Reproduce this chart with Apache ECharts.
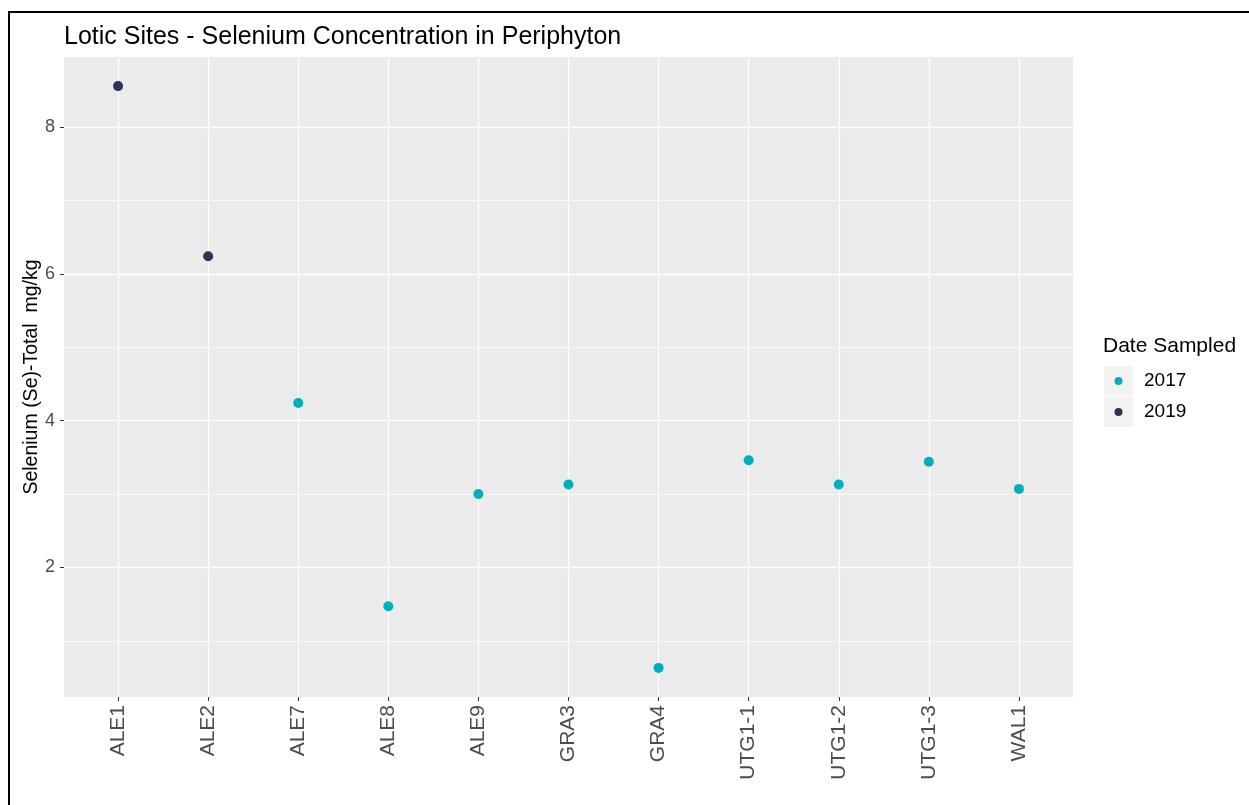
<!DOCTYPE html>
<html>
<head>
<meta charset="utf-8">
<script src="https://cdn.jsdelivr.net/npm/echarts@6/dist/echarts.min.js"></script>
<style>
html,body{margin:0;padding:0;background:#fff;}
#chart{width:1249px;height:805px;}
#frame{position:absolute;left:8px;top:11px;right:0;bottom:0;border-left:2px solid #000;border-top:2px solid #000;pointer-events:none;}
</style>
</head>
<body>
<div id="chart"></div>
<div id="frame"></div>
<script>
// ---- data ----
const sites = ['ALE1','ALE2','ALE7','ALE8','ALE9','GRA3','GRA4','UTG1-1','UTG1-2','UTG1-3','WAL1'];
const yearSampled = ['2019','2019','2017','2017','2017','2017','2017','2017','2017','2017','2017'];
const selenium = [8.56, 6.24, 4.24, 1.47, 3.00, 3.13, 0.63, 3.46, 3.13, 3.44, 3.07];
const years = ['2017','2019'];
const yearColors = ['#00AFBB', '#2B3454'];
const yMajorTicks = [2, 4, 6, 8];
const yMinorTicks = [1, 3, 5, 7];

// ---- build ----
const xIdx = sites.map((_, i) => i);
const yMinD = Math.min(...selenium), yMaxD = Math.max(...selenium);
const pad = (yMaxD - yMinD) * 0.05;
const yMin = yMinD - pad, yMax = yMaxD + pad;

function keyIcon(color) {
  const svg = "<svg xmlns='http://www.w3.org/2000/svg' width='29' height='30'>" +
    "<rect width='29' height='30' fill='#F2F2F2'/>" +
    "<circle cx='14.5' cy='15' r='4' fill='" + color + "'/></svg>";
  return 'image://data:image/svg+xml;charset=utf-8,' + encodeURIComponent(svg);
}

const series = years.map((yr, k) => ({
  name: yr,
  type: 'scatter',
  symbolSize: 10,
  itemStyle: { color: yearColors[k], opacity: 1 },
  data: sites.map((s, i) => yearSampled[i] === yr ? [i, selenium[i]] : null).filter(d => d),
  z: 5
}));

const font = 'Liberation Sans, Arial, sans-serif';
const chart = echarts.init(document.getElementById('chart'), null, { renderer: 'canvas' });
chart.setOption({
  animation: false,
  backgroundColor: '#ffffff',
  color: yearColors,
  title: [
    { text: 'Lotic Sites - Selenium Concentration in Periphyton', left: 59, top: 20,
      textStyle: { fontFamily: font, fontSize: 25, fontWeight: 'normal', color: '#000' } },
    { text: 'Date Sampled', left: 1098, top: 331,
      textStyle: { fontFamily: font, fontSize: 21, fontWeight: 'normal', color: '#000' } }
  ],
  legend: {
    orient: 'vertical', left: 1104, top: 366, padding: 0,
    itemWidth: 29, itemHeight: 30, itemGap: 1,
    data: years.map((y, k) => ({ name: y, icon: keyIcon(yearColors[k]) })),
    textStyle: { fontFamily: font, fontSize: 19, color: '#000', padding: [0, 0, 0, 6] }
  },
  grid: { left: 64, top: 57, width: 1009, height: 640, show: true, backgroundColor: '#EBEBEB', borderWidth: 0 },
  xAxis: {
    type: 'value', min: -0.6, max: 10.6,
    axisLine: { show: false, onZero: false },
    axisTick: { show: true, length: 4, lineStyle: { color: '#333333', width: 1 }, customValues: xIdx },
    axisLabel: { customValues: xIdx, rotate: 90, margin: 8, color: '#4D4D4D', fontFamily: font, fontSize: 21,
      formatter: v => sites[Math.round(v)] },
    splitLine: { show: true, lineStyle: { color: '#FFFFFF', width: 1.2 } }
  },
  yAxis: [
    {
      type: 'value', min: yMin, max: yMax,
      name: 'Selenium (Se)-Total  mg/kg', nameLocation: 'middle', nameGap: 22, nameMoveOverlap: false,
      nameTextStyle: { fontFamily: font, fontSize: 19.5, color: '#000' },
      axisLine: { show: false, onZero: false },
      axisTick: { show: true, length: 4, lineStyle: { color: '#333333', width: 1 }, customValues: yMajorTicks },
      axisLabel: { customValues: yMajorTicks, margin: 9, color: '#4D4D4D', fontFamily: font, fontSize: 18,
        formatter: v => String(Math.round(v)) },
      splitLine: { show: true, lineStyle: { color: '#FFFFFF', width: 1.4 } },
      z: 2
    },
    {
      type: 'value', min: yMin, max: yMax, position: 'left',
      axisLine: { show: false, onZero: false }, axisLabel: { show: false },
      axisTick: { show: false, customValues: yMinorTicks },
      splitLine: { show: true, lineStyle: { color: '#FFFFFF', width: 0.7 } },
      z: 1
    }
  ],
  series: series
});
</script>
</body>
</html>
